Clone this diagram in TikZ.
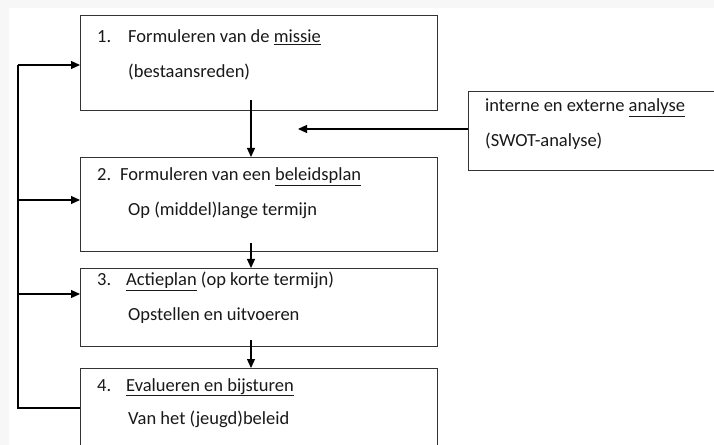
\documentclass[tikz,border=0pt]{standalone}
\usepackage{fontspec}
\setmainfont{Carlito}
\usetikzlibrary{arrows.meta}
\tikzset{
  box/.style={draw=black!80, line width=1.2bp, rectangle, inner sep=0pt, anchor=north west},
  conn/.style={draw=black, line width=1.2bp, -{Triangle[length=9bp,width=8bp]}},
  txt/.style={anchor=base west, inner sep=0pt, font=\fontsize{18.5bp}{22bp}\selectfont, text=black!90}
}
\begin{document}
\begin{tikzpicture}[x=1bp,y=-1bp]
\useasboundingbox (0,0) rectangle (714,445);
\clip (0,0) rectangle (714,445);
\fill[white] (0,0) rectangle (714,445);
\fill[black!3] (0,0) rectangle (714,8);
\fill[black!3] (0,0) rectangle (9,445);
% boxes
\node[box, minimum width=357bp, minimum height=95bp] (b1) at (80,15) {};
\node[box, minimum width=357bp, minimum height=94bp] (b2) at (80,157) {};
\node[box, minimum width=357bp, minimum height=78bp] (b3) at (80,268) {};
\node[box, minimum width=357bp, minimum height=100bp] (b4) at (80,368) {};
\node[box, minimum width=260bp, minimum height=79bp] (sw) at (468,91) {};
% texts
\node[txt] (t1a) at (97,43) {1.};
\node[txt] (t1b) at (128,43) {Formuleren van de \underline{missie}};
\node[txt] (t1c) at (128,78) {(bestaansreden)};
\node[txt] (t2a) at (97,181) {2.};
\node[txt] (t2b) at (120,181) {Formuleren van een \underline{beleidsplan}};
\node[txt] (t2c) at (128,216) {Op (middel)lange termijn};
\node[txt] (t3a) at (97,286) {3.};
\node[txt] (t3b) at (126,286) {\underline{Actieplan} (op korte termijn)};
\node[txt] (t3c) at (128,321) {Opstellen en uitvoeren};
\node[txt] (t4a) at (97,391) {4.};
\node[txt] (t4b) at (126,391) {\underline{Evalueren en bijsturen}};
\node[txt] (t4c) at (128,424) {Van het (jeugd)beleid};
\node[txt] (s1) at (485,112) {interne en externe \underline{analyse}};
\node[txt] (s2) at (485,147) {(SWOT-analyse)};
% connectors
\coordinate (a1) at (251,100);
\coordinate (a2) at (251,243);
\coordinate (a3) at (251,340);
\coordinate (sa) at (298,129);
\draw[conn] (a1) -- (a1 |- b2.north);
\draw[conn] (a2) -- (a2 |- b3.north);
\draw[conn] (a3) -- (a3 |- b4.north);
\draw[conn] (sw.west |- sa) -- (sa);
\coordinate (fb) at (18,408);
\coordinate (y1) at (18,65);
\coordinate (y2) at (18,200);
\coordinate (y3) at (18,294);
\draw[line width=1.2bp] (fb -| b4.west) -- (fb) -- (y1);
\draw[conn] (y1) -- (y1 -| b1.west);
\draw[conn] (y2) -- (y2 -| b2.west);
\draw[conn] (y3) -- (y3 -| b3.west);
\end{tikzpicture}
\end{document}
